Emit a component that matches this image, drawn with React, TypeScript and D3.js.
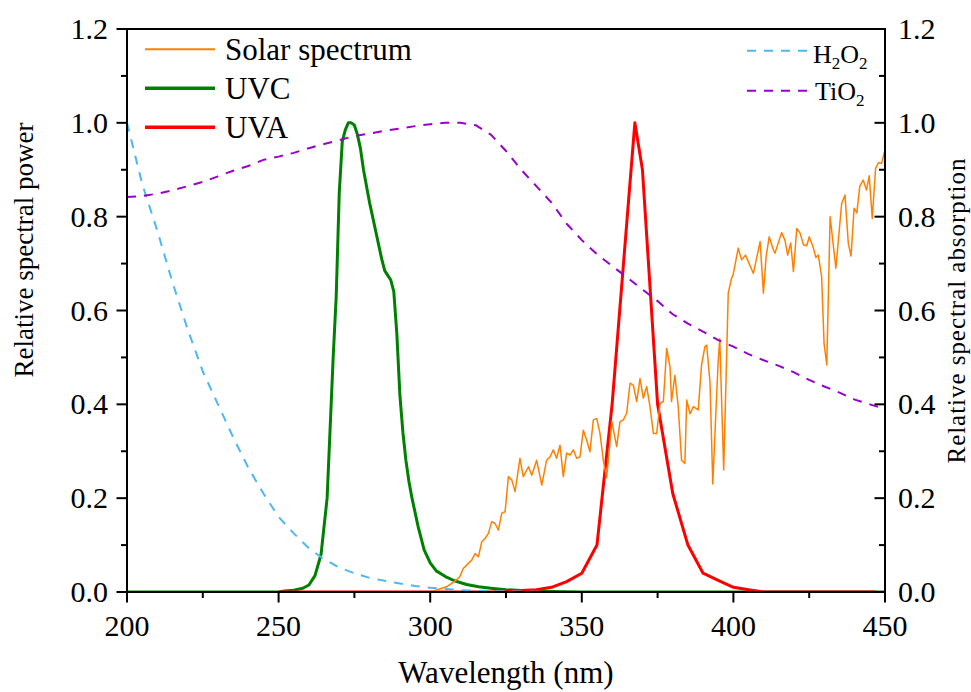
import React from "react";
import * as d3 from "d3";

// ---------- data ----------
const h2o2Nm = [200, 205, 210, 215, 220, 225, 230, 235, 240, 245, 250, 255, 260, 265, 270, 275, 280, 285, 290, 295, 300, 310, 320, 330, 340, 450];
const h2o2Abs = [1.0, 0.87, 0.77, 0.66, 0.56, 0.47, 0.4, 0.33, 0.265, 0.21, 0.16, 0.125, 0.093, 0.07, 0.052, 0.04, 0.03, 0.024, 0.018, 0.013, 0.009, 0.004, 0.002, 0.001, 0, 0];

const tio2Nm = [200, 205, 210, 215, 220, 225, 230, 235, 240, 245, 250, 255, 260, 265, 270, 275, 280, 285, 290, 295, 300, 305, 310, 315, 320, 325, 330, 335, 340, 345, 350, 355, 360, 365, 370, 375, 380, 385, 390, 395, 400, 405, 410, 415, 420, 425, 430, 435, 440, 445, 450];
const tio2Abs = [0.842, 0.844, 0.849, 0.856, 0.865, 0.874, 0.886, 0.898, 0.908, 0.921, 0.928, 0.936, 0.946, 0.955, 0.963, 0.972, 0.977, 0.983, 0.988, 0.993, 0.997, 1.0, 1.0, 0.995, 0.975, 0.94, 0.9, 0.865, 0.83, 0.785, 0.75, 0.72, 0.695, 0.67, 0.645, 0.62, 0.592, 0.572, 0.555, 0.537, 0.523, 0.507, 0.494, 0.482, 0.468, 0.452, 0.438, 0.425, 0.41, 0.4, 0.39];

const uvcNm = [200, 250, 252, 255, 258, 260, 262, 264, 266, 267, 268, 269, 270, 271, 272, 273, 274, 275, 276, 277, 278, 279, 280, 281, 282, 283, 284, 285, 286, 287, 288, 289, 290, 291, 292, 293, 294, 296, 298, 300, 302, 305, 308, 312, 316, 320, 325, 330, 340, 350, 450];
const uvcPow = [0, 0, 0.002, 0.004, 0.008, 0.015, 0.035, 0.08, 0.2, 0.35, 0.5, 0.63, 0.85, 0.96, 0.985, 1.0, 1.0, 0.995, 0.975, 0.945, 0.9, 0.865, 0.83, 0.8, 0.77, 0.74, 0.71, 0.685, 0.675, 0.665, 0.64, 0.55, 0.42, 0.34, 0.28, 0.235, 0.2, 0.14, 0.09, 0.062, 0.045, 0.033, 0.024, 0.016, 0.011, 0.008, 0.005, 0.003, 0.001, 0, 0];

const uvaNm = [250, 320, 330, 335, 340, 345, 350, 355, 360, 365, 367.5, 370, 375, 380, 385, 390, 395, 400, 405, 410, 447];
const uvaPow = [0, 0, 0.003, 0.005, 0.01, 0.022, 0.04, 0.1, 0.4, 0.8, 1.0, 0.9, 0.4, 0.21, 0.1, 0.04, 0.025, 0.01, 0.005, 0, 0];

const solarNm = [280, 290, 300, 305.4, 308.7, 309.8, 310.9, 312.6, 313.7, 314.8, 315.9, 317, 318.1, 319.2, 320.3, 321.4, 322.5, 323.6, 324.7, 325.8, 326.9, 328, 329.6, 330.7, 332.4, 333.5, 335.1, 336.8, 338.4, 339.5, 340.6, 341.7, 342.8, 343.9, 345, 346.1, 347.2, 348.3, 349.4, 350.5, 351.6, 352.7, 353.8, 354.9, 356, 357.1, 358.2, 359.9, 361.5, 362.6, 363.7, 364.8, 365.9, 367, 368.1, 369.2, 370.3, 371.4, 372.5, 373.6, 374.7, 375.8, 376.9, 378, 379.1, 379.6, 380.7, 381.8, 382.9, 384, 384.6, 385.7, 386.8, 388.4, 389.5, 390.6, 391.2, 392.3, 393.2, 394.2, 395, 395.5, 396.8, 398.3, 399.4, 399.9, 401.6, 402.7, 404, 406.6, 408.8, 409.9, 410.8, 411.8, 413.2, 413.7, 415.9, 417, 417.9, 418.9, 419.8, 420.9, 422, 423.1, 424.2, 425, 426.4, 427.2, 428, 429.1, 429.9, 430.8, 431.9, 433.8, 435.7, 436.8, 437.9, 438.8, 439.8, 440.7, 441.7, 442.8, 443.9, 444.8, 445.8, 446.9, 447.8, 448.9, 450];
const solarPow = [0, 0, 0, 0.011, 0.026, 0.033, 0.05, 0.061, 0.068, 0.082, 0.075, 0.107, 0.114, 0.125, 0.15, 0.146, 0.132, 0.168, 0.171, 0.246, 0.239, 0.214, 0.285, 0.246, 0.267, 0.249, 0.281, 0.228, 0.281, 0.288, 0.303, 0.285, 0.313, 0.246, 0.296, 0.292, 0.303, 0.285, 0.288, 0.345, 0.324, 0.299, 0.367, 0.37, 0.338, 0.28, 0.244, 0.363, 0.31, 0.363, 0.367, 0.381, 0.445, 0.441, 0.406, 0.455, 0.413, 0.438, 0.395, 0.338, 0.338, 0.402, 0.406, 0.519, 0.48, 0.406, 0.462, 0.395, 0.281, 0.274, 0.409, 0.38, 0.395, 0.388, 0.484, 0.523, 0.526, 0.445, 0.23, 0.38, 0.494, 0.54, 0.26, 0.637, 0.669, 0.676, 0.733, 0.708, 0.718, 0.679, 0.747, 0.637, 0.715, 0.757, 0.729, 0.722, 0.766, 0.75, 0.718, 0.744, 0.683, 0.775, 0.765, 0.74, 0.738, 0.757, 0.733, 0.713, 0.718, 0.672, 0.53, 0.484, 0.8, 0.69, 0.828, 0.846, 0.743, 0.716, 0.818, 0.808, 0.865, 0.878, 0.857, 0.887, 0.796, 0.903, 0.915, 0.914, 0.942];

const xMajorTicks = [200, 250, 300, 350, 400, 450];
const xMinorTicks = [225, 275, 325, 375, 425];
const yMajorTicks = [0, 0.2, 0.4, 0.6, 0.8, 1.0, 1.2];
const yMinorTicks = [0.1, 0.3, 0.5, 0.7, 0.9, 1.1];

const leftLegend = [
  { label: "Solar spectrum", color: "#FF8000", width: 2 },
  { label: "UVC", color: "#008000", width: 3.5 },
  { label: "UVA", color: "#FF0000", width: 3.5 },
];

// ---------- layout ----------
const W = 971;
const H = 692;
const X0 = 127;
const X1 = 885;
const Y0 = 592;
const Y1 = 29;
const FONT = '"Liberation Serif", "Times New Roman", Times, "DejaVu Serif", serif';

export default function App() {
  const x = d3.scaleLinear().domain([200, 450]).range([X0, X1]);
  const y = d3.scaleLinear().domain([0, 1.2]).range([Y0, Y1]);

  const mk = (xs: number[], ys: number[]) =>
    d3
      .line<number>()
      .x((_, i) => x(xs[i]))
      .y((_, i) => y(ys[i]))(ys) || "";

  const fmt = d3.format(".1f");

  return (
    <div style={{ position: "fixed", left: 0, top: 0 }}>
      <svg width={W} height={H} style={{ display: "block", background: "#fff", fontFamily: FONT }}>
        <defs>
          <clipPath id="plot">
            <rect x={X0} y={Y1} width={X1 - X0} height={Y0 - Y1} />
          </clipPath>
        </defs>

        <g clipPath="url(#plot)" fill="none" strokeLinejoin="round">
          <path d={mk(uvcNm, uvcPow)} stroke="#008000" strokeWidth={3} />
          <path d={mk(uvaNm, uvaPow)} stroke="#FF0000" strokeWidth={3} />
          <path d={mk(solarNm, solarPow)} stroke="#FF8000" strokeWidth={1.5} />
          <path d={mk(h2o2Nm, h2o2Abs)} stroke="#4DB8F0" strokeWidth={2} strokeDasharray="9,8" />
          <path d={mk(tio2Nm, tio2Abs)} stroke="#9A00CC" strokeWidth={2} strokeDasharray="9,8" />
        </g>

        {/* frame */}
        <g stroke="#000" strokeWidth={2} fill="none">
          <line x1={X0} x2={X1} y1={Y0} y2={Y0} />
          <line x1={X0} x2={X1} y1={Y1} y2={Y1} />
          <line x1={X0} x2={X0} y1={Y1} y2={Y0 + 1} />
          <line x1={X1} x2={X1} y1={Y1 - 1} y2={Y0 + 1} />
        </g>

        {/* ticks */}
        <g stroke="#000" strokeWidth={2}>
          {xMajorTicks.map((t) => (
            <line key={"xM" + t} x1={x(t)} x2={x(t)} y1={Y0} y2={Y0 + 10.5} />
          ))}
          {xMinorTicks.map((t) => (
            <line key={"xm" + t} x1={x(t)} x2={x(t)} y1={Y0} y2={Y0 + 6} />
          ))}
          {yMajorTicks.map((t) => (
            <line key={"yL" + t} x1={X0 - 10.5} x2={X0} y1={y(t)} y2={y(t)} />
          ))}
          {yMinorTicks.map((t) => (
            <line key={"yl" + t} x1={X0 - 6} x2={X0} y1={y(t)} y2={y(t)} />
          ))}
          {yMajorTicks.map((t) => (
            <line key={"yR" + t} x1={X1 - 10.5} x2={X1} y1={y(t)} y2={y(t)} />
          ))}
          {yMinorTicks.map((t) => (
            <line key={"yr" + t} x1={X1 - 6} x2={X1} y1={y(t)} y2={y(t)} />
          ))}
        </g>

        {/* tick labels */}
        <g fontSize={30} fill="#000">
          {xMajorTicks.map((t) => (
            <text key={"xt" + t} x={x(t)} y={Y0 + 44} textAnchor="middle">
              {t}
            </text>
          ))}
          {yMajorTicks.map((t) => (
            <text key={"ytl" + t} x={X0 - 19} y={y(t) + 10} textAnchor="end">
              {fmt(t)}
            </text>
          ))}
          {yMajorTicks.map((t) => (
            <text key={"ytr" + t} x={X1 + 13} y={y(t) + 10} textAnchor="start">
              {fmt(t)}
            </text>
          ))}
        </g>

        {/* axis titles */}
        <text x={(X0 + X1) / 2} y={683} textAnchor="middle" fontSize={31}>
          Wavelength (nm)
        </text>
        <text transform="translate(33,250) rotate(-90)" textAnchor="middle" fontSize={27}>
          Relative spectral power
        </text>
        <text transform="translate(965,311) rotate(-90)" textAnchor="middle" fontSize={25} textLength={305} lengthAdjust="spacing">
          Relative spectral absorption
        </text>

        {/* left legend */}
        {leftLegend.map((d, i) => {
          const ly = 49.3 + i * 39;
          return (
            <g key={d.label}>
              <line x1={145} x2={215} y1={ly} y2={ly} stroke={d.color} strokeWidth={d.width} />
              <text x={225} y={ly + 11} fontSize={31}>
                {d.label}
              </text>
            </g>
          );
        })}

        {/* right legend */}
        <g>
          <line x1={747} x2={810} y1={50.7} y2={50.7} stroke="#4DB8F0" strokeWidth={2} strokeDasharray="9,8" />
          <text x={813} y={63} fontSize={26}>
            H<tspan fontSize={17} dy={6}>2</tspan>
            <tspan dy={-6}>O</tspan>
            <tspan fontSize={17} dy={6}>2</tspan>
          </text>
          <line x1={747} x2={810} y1={90.7} y2={90.7} stroke="#9A00CC" strokeWidth={2} strokeDasharray="9,8" />
          <text x={815} y={100} fontSize={26}>
            TiO<tspan fontSize={17} dy={6}>2</tspan>
          </text>
        </g>
      </svg>
    </div>
  );
}
